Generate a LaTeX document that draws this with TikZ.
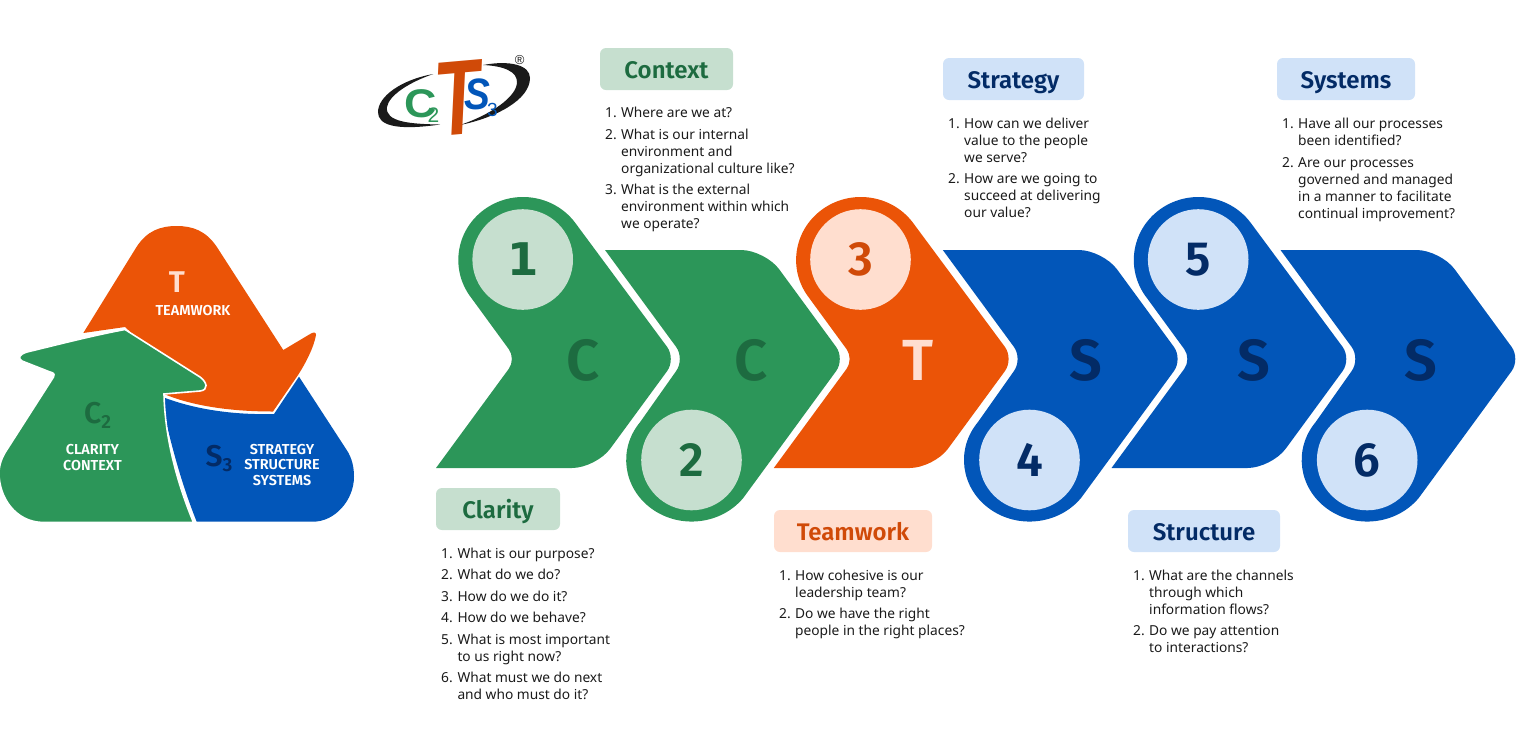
\documentclass[tikz,border=0pt]{standalone}
\usepackage{fontspec}
\setmainfont{Noto Sans}
\newfontfamily\headf[BoldFont={Fira Sans SemiBold}]{Fira Sans}
\newfontfamily\logof{Liberation Sans}
\newfontfamily\onef{DejaVu Sans}
\definecolor{gr}{HTML}{2C9659}
\definecolor{grd}{HTML}{1D6B40}
\definecolor{grl}{HTML}{C6DFCF}
\definecolor{og}{HTML}{EB5407}
\definecolor{ogd}{HTML}{D04A08}
\definecolor{ogl}{HTML}{FFDECF}
\definecolor{bl}{HTML}{0256B9}
\definecolor{bld}{HTML}{032B66}
\definecolor{bll}{HTML}{D0E2F8}
\definecolor{ink}{HTML}{1A1A1A}
\tikzset{
  qt/.style={anchor=base west,inner sep=0pt,text=ink,font=\fontsize{13.75}{17}\selectfont},
  bignum/.style={circle,minimum size=100.6pt,inner sep=0pt,font=\headf\bfseries\fontsize{48}{48}\selectfont},
  bigletter/.style={inner sep=0pt,font=\headf\bfseries\fontsize{58}{58}\selectfont},
  headbox/.style={rounded corners=6pt,inner sep=0pt,minimum height=42pt,text height=19pt,text depth=0.4pt,font=\headf\bfseries\fontsize{24}{24}\selectfont},
  caps/.style={inner sep=0pt,text=white,font=\headf\bfseries\fontsize{14.4}{15.5}\selectfont,align=center},
  triadmark/.style={inner sep=0pt,font=\headf\bfseries\fontsize{30}{30}\selectfont},
  logotxt/.style={inner sep=0pt}
}
\newcommand\qitem[6]{%
  \node[qt] (#1n) at (#2,#4) {#5.};
  \node[qt] (#1t) at (#3,#4) {\parbox[t]{230pt}{\raggedright #6}};}
\newcommand\chevup[2]{%
  \begin{scope}[xshift=#1pt]
  \fill[#2] (436,468) -- (508.9,368.67) .. controls (512.8,363.35) and (512.8,354.65) .. (508.9,349.33)
    -- (471.4,298) arc[start angle=142.9,end angle=322.9,x radius=64.7pt,y radius=63pt]
    -- (667.12,346.91) .. controls (672,353.56) and (672,364.44) .. (667.12,371.09)
    -- (610.2,448.7) .. controls (602.4,459.3) and (585.2,468) .. (572,468) -- cycle;
  \end{scope}}
\newcommand\chevdn[2]{%
  \begin{scope}[xshift=#1pt]
  \fill[#2] (605,250) -- (741,250) .. controls (754.2,250) and (771.4,258.7) .. (779.2,269.3)
    -- (836.12,346.91) .. controls (841,353.56) and (841,364.44) .. (836.12,371.09)
    -- (743.3,497.9) arc[start angle=38,end angle=218,x radius=65.5pt,y radius=61.5pt]
    -- (676.12,371.09) .. controls (681,364.44) and (681,353.56) .. (676.12,346.91) -- cycle;
  \end{scope}}
\begin{document}
\begin{tikzpicture}[x=1pt,y=1pt,yscale=-1]
\useasboundingbox (0,0) rectangle (1516,748);

% triad
\fill[bl] (160,396) .. controls (195,410) and (235,415) .. (274,414) -- (299,376.7) -- (346.7,450)
  .. controls (352,458) and (354,467) .. (354,476.7) .. controls (354,500) and (335,521.7) .. (313,521.7)
  -- (196.7,521.7) .. controls (180,480) and (170,440) .. (160,396) -- cycle;
\fill[og] (83.3,333) -- (136.7,246.7) .. controls (147,231) and (160,226) .. (176.7,226)
  .. controls (193,226) and (206,231) .. (216.7,246.7) -- (283.3,350) -- (311,333.5)
  .. controls (314,332) and (316,332) .. (316,335) .. controls (314,347) and (305,365) .. (296,378)
  -- (273,411.5) .. controls (235,411.5) and (195,407) .. (164,394) -- (150,350) -- (125,327) -- cycle;
\draw[draw=white,line width=1.6pt,fill=gr] (125,329.5) -- (200,377) .. controls (207,382) and (209,390) .. (200,391)
  -- (164,394) .. controls (165,440) and (178,485) .. (193.5,522.5) -- (43,522.5)
  .. controls (15,522) and (-1,497) .. (-1,473) .. controls (-1,465) and (2,457) .. (6.7,450)
  -- (53.5,377) .. controls (55,373) and (53,373) .. (50,372) -- (22,361)
  .. controls (17,358) and (20,354) .. (27,352) .. controls (60,344) and (95,335) .. (125,329.5) -- cycle;
\node[triadmark,text=ogl] (tmark) at (176.8,281.7) {T};
\node[caps] (tcap) at (193,311) {TEAMWORK};
\node[triadmark,text=grd,anchor=base west] (cmark) at (84,423) {C\raisebox{-5pt}{\fontsize{19}{19}\selectfont 2}};
\node[caps] (ccap) at (92.5,457.5) {CLARITY\\CONTEXT};
\node[triadmark,text=bld,anchor=base west] (smark) at (205.5,466.5) {S\raisebox{-5pt}{\fontsize{19}{19}\selectfont 3}};
\node[caps] (scap) at (282,465) {STRATEGY\\STRUCTURE\\SYSTEMS};

% logo
\fill[ink] (433.3,74) .. controls (400,80) and (378,97) .. (378,112) .. controls (378,125) and (395,131) .. (440,124.5)
  .. controls (410,124) and (385,122) .. (387,107) .. controls (389,95) and (410,82) .. (433.3,74) -- cycle;
\fill[ink] (483,65) .. controls (510,60) and (530,65) .. (530,78) .. controls (530,100) and (495,118) .. (460,125)
  .. controls (490,115) and (517,97) .. (517,82) .. controls (517,72) and (505,66) .. (483,65) -- cycle;
\node[logotxt,text=gr,font=\logof\bfseries\fontsize{40}{40}\selectfont] (lc) at (421,104) {\scalebox{1.12}[1]{C}};
\node[logotxt,text=bl,font=\logof\bfseries\itshape\fontsize{44}{44}\selectfont] (ls) at (477,94.5) {\scalebox{0.88}[1]{S}};
\node[logotxt,text=ogd,font=\logof\bfseries\itshape\fontsize{106}{106}\selectfont,rotate=5] (lt) at (458,98.5) {\scalebox{0.7}[1]{T}};
\node[logotxt,text=gr,font=\logof\fontsize{21}{21}\selectfont] (l2) at (433.5,115.5) {2};
\node[logotxt,text=bl,font=\logof\fontsize{19}{19}\selectfont] (l3) at (492.5,109.5) {3};
\node[inner sep=0pt,text=ink,font=\logof\fontsize{13}{13}\selectfont] (lr) at (519.7,60) {®};

% chevrons
\chevup{0}{gr}
\chevdn{0}{gr}
\chevup{337.8}{og}
\chevdn{337.8}{bl}
\chevup{675.5}{bl}
\chevdn{675.5}{bl}

\node[bignum,fill=grl,text=grd,font=\onef\bfseries\fontsize{45}{45}\selectfont] (n1) at (522.7,259.5) {1};
\node[bignum,fill=grl,text=grd] (n2) at (691.5,460) {2};
\node[bignum,fill=ogl,text=ogd] (n3) at (860.5,259.5) {3};
\node[bignum,fill=bll,text=bld] (n4) at (1029.5,460) {4};
\node[bignum,fill=bll,text=bld] (n5) at (1198.2,259.5) {5};
\node[bignum,fill=bll,text=bld] (n6) at (1367.2,460) {6};

\node[bigletter,text=grd] (l1c) at (583,360) {C};
\node[bigletter,text=grd] (l2c) at (751,360) {C};
\node[bigletter,text=ogl] (l3t) at (918,360) {T};
\node[bigletter,text=bld] (l4s) at (1086,360) {S};
\node[bigletter,text=bld] (l5s) at (1254,360) {S};
\node[bigletter,text=bld] (l6s) at (1421,360) {S};

% headings
\node[headbox,fill=grl,text=grd,minimum width=124pt] (hclarity) at (498,509) {Clarity};
\node[headbox,fill=grl,text=grd,minimum width=133pt] (hcontext) at (666.5,69) {Context};
\node[headbox,fill=ogl,text=ogd,minimum width=158pt] (hteam) at (853,531) {Teamwork};
\node[headbox,fill=bll,text=bld,minimum width=141pt] (hstrat) at (1013.5,79) {Strategy};
\node[headbox,fill=bll,text=bld,minimum width=152pt] (hstruct) at (1204,531) {Structure};
\node[headbox,fill=bll,text=bld,minimum width=138pt] (hsys) at (1346,79) {Systems};

% lists
\qitem{a1}{441}{457.3}{558.3}{1}{What is our purpose?}
\qitem{a2}{441}{457.3}{579.8}{2}{What do we do?}
\qitem{a3}{441}{457.3}{601.3}{3}{How do we do it?}
\qitem{a4}{441}{457.3}{622.8}{4}{How do we behave?}
\qitem{a5}{441}{457.3}{644.3}{5}{What is most important\\to us right now?}
\qitem{a6}{441}{457.3}{682.3}{6}{What must we do next\\and who must do it?}

\qitem{b1}{605}{621}{117.5}{1}{Where are we at?}
\qitem{b2}{605}{621}{139}{2}{What is our internal\\environment and\\organizational culture like?}
\qitem{b3}{605}{621}{194}{3}{What is the external\\environment within which\\we operate?}

\qitem{c1}{948}{964}{128.3}{1}{How can we deliver\\value to the people\\we serve?}
\qitem{c2}{948}{964}{183.3}{2}{How are we going to\\succeed at delivering\\our value?}

\qitem{d1}{1282}{1298}{128.3}{1}{Have all our processes\\been identified?}
\qitem{d2}{1282}{1298}{167}{2}{Are our processes\\governed and managed\\in a manner to facilitate\\continual improvement?}

\qitem{e1}{779}{795}{580}{1}{How cohesive is our\\leadership team?}
\qitem{e2}{779}{795}{618.5}{2}{Do we have the right\\people in the right places?}

\qitem{f1}{1133}{1149}{580}{1}{What are the channels\\through which\\information flows?}
\qitem{f2}{1133}{1149}{635.5}{2}{Do we pay attention\\to interactions?}
\end{tikzpicture}
\end{document}
